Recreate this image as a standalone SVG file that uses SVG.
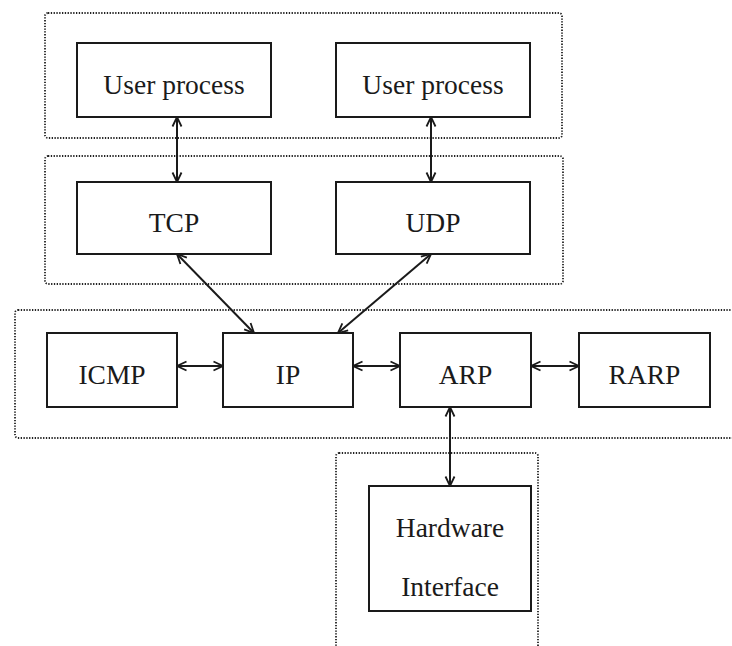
<svg xmlns="http://www.w3.org/2000/svg" width="732" height="646" viewBox="0 0 732 646">
  <style>
    .layer { fill: none; stroke: #222; stroke-width: 1.8; stroke-dasharray: 1.3 1.5; }
    .box { fill: #fff; stroke: #1a1a1a; stroke-width: 2; }
    .lbl { font-family: "Liberation Serif", "Times New Roman", serif; font-size: 27.5px; fill: #1a1a1a; text-anchor: middle; }
    .link { stroke: #1a1a1a; stroke-width: 2; fill: none; marker-start: url(#tip); marker-end: url(#tip); }
  </style>
  <defs>
    <marker id="tip" viewBox="0 0 12 12" refX="11.5" refY="6" markerWidth="12" markerHeight="12" markerUnits="userSpaceOnUse" orient="auto-start-reverse">
      <path d="M2,1.5 L11.5,6 L2,10.5" fill="none" stroke="#1a1a1a" stroke-width="1.8"/>
    </marker>
  </defs>
  <rect width="732" height="646" fill="#fff"/>

  <!-- layer frames -->
  <g id="layers">
    <rect class="layer" x="45" y="13" width="517" height="125" rx="3"/>
    <rect class="layer" x="45" y="156" width="518" height="128" rx="3"/>
    <rect class="layer" x="15" y="310" width="760" height="128" rx="3"/>
    <rect class="layer" x="336" y="453" width="202" height="220" rx="3"/>
  </g>

  <g id="user1">
    <rect class="box" x="77" y="43" width="194" height="74"/>
    <text class="lbl" x="174" y="94">User process</text>
  </g>
  <g id="user2">
    <rect class="box" x="336" y="43" width="194" height="74"/>
    <text class="lbl" x="433" y="94">User process</text>
  </g>
  <g id="tcp">
    <rect class="box" x="77" y="182" width="194" height="72"/>
    <text class="lbl" x="174" y="232">TCP</text>
  </g>
  <g id="udp">
    <rect class="box" x="336" y="182" width="194" height="72"/>
    <text class="lbl" x="433" y="232">UDP</text>
  </g>
  <g id="icmp">
    <rect class="box" x="47" y="333" width="130" height="74"/>
    <text class="lbl" x="112" y="384">ICMP</text>
  </g>
  <g id="ip">
    <rect class="box" x="223" y="333" width="130" height="74"/>
    <text class="lbl" x="288" y="384">IP</text>
  </g>
  <g id="arp">
    <rect class="box" x="400" y="333" width="131" height="74"/>
    <text class="lbl" x="465.5" y="384">ARP</text>
  </g>
  <g id="rarp">
    <rect class="box" x="579" y="333" width="131" height="74"/>
    <text class="lbl" x="644.5" y="384">RARP</text>
  </g>
  <g id="hardware">
    <rect class="box" x="369" y="486" width="162" height="125"/>
    <text class="lbl" x="450" y="537">Hardware</text>
    <text class="lbl" x="450" y="596">Interface</text>
  </g>

  <!-- connectors -->
  <g id="connectors">
    <line class="link" x1="177" y1="117" x2="177" y2="182"/>
    <line class="link" x1="431" y1="117" x2="431" y2="182"/>
    <line class="link" x1="177" y1="254" x2="254" y2="333"/>
    <line class="link" x1="431" y1="254" x2="338" y2="333"/>
    <line class="link" x1="177" y1="366" x2="223" y2="366"/>
    <line class="link" x1="353" y1="366" x2="400" y2="366"/>
    <line class="link" x1="531" y1="366" x2="579" y2="366"/>
    <line class="link" x1="450" y1="407" x2="450" y2="486"/>
  </g>
</svg>
